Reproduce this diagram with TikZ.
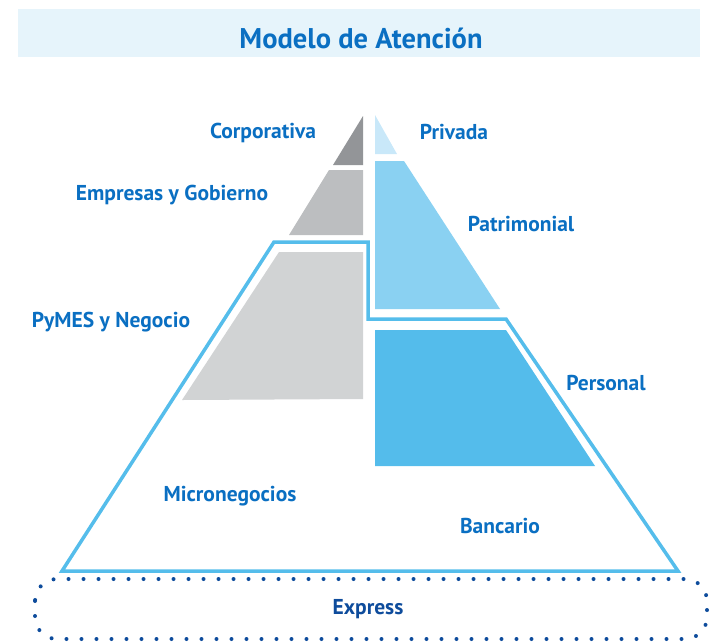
\documentclass[tikz,border=0pt]{standalone}
\usepackage{fontspec}
\setmainfont{PT Sans}
\definecolor{lblblue}{HTML}{0A6FC2}
\definecolor{navy}{HTML}{0E4C9C}
\definecolor{banner}{HTML}{E6F4FB}
\definecolor{outl}{HTML}{55BDEB}
\definecolor{gA}{HTML}{939598}
\definecolor{gB}{HTML}{BCBEC0}
\definecolor{gC}{HTML}{D1D3D4}
\definecolor{bA}{HTML}{C9E8F9}
\definecolor{bB}{HTML}{8AD1F2}
\definecolor{bC}{HTML}{54BCEB}
\begin{document}
\begin{tikzpicture}[x=1pt,y=-1pt,
  lbl/.style={font=\bfseries\fontsize{21.5}{24}\selectfont, text=lblblue, inner sep=0pt, anchor=base},
  outline/.style={draw=outl, line width=3.5pt, line join=miter},
  dotline/.style={draw=navy, line width=4pt, line cap=round, dash pattern=on 0pt off 15pt}]
\useasboundingbox (0,0) rectangle (712,641);
% banner
\fill[banner] (18,9) rectangle (700,57);
\node[font=\bfseries\fontsize{28.5}{32}\selectfont, text=lblblue, inner sep=0pt, anchor=base] (title) at (361,48) {Modelo de Atención};
% left gray blocks
\fill[gA] (363,116) -- (363,165) -- (333,165) -- cycle;
\fill[gB] (329,170) -- (363,170) -- (363,235) -- (289,235) -- cycle;
\fill[gC] (279,252) -- (363,252) -- (363,399) -- (182,400) -- cycle;
% right blue blocks
\fill[bA] (375,115) -- (397,154) -- (375,154) -- cycle;
\fill[bB] (375,161) -- (404,161) -- (500,309) -- (375,309) -- cycle;
\fill[bC] (375,330) -- (506,330) -- (595,466) -- (375,466) -- cycle;
% outline
\draw[outline] (62,571) -- (274,242) -- (368,242) -- (368,319) -- (506,319) -- (678,571) -- cycle;
% dotted express frame
\draw[dotline, rounded corners=22pt] (35,579) rectangle (707,639);
% labels
\node[lbl] (corp) at (263,138) {Corporativa};
\node[lbl] (emp) at (172,200) {Empresas y Gobierno};
\node[lbl] (pym) at (111,327) {PyMES y Negocio};
\node[lbl] (priv) at (454,139) {Privada};
\node[lbl] (patr) at (521,231) {Patrimonial};
\node[lbl] (pers) at (606,390) {Personal};
\node[lbl] (micro) at (230,501) {Micronegocios};
\node[lbl] (banc) at (500,533) {Bancario};
\node[lbl, text=navy] (expr) at (368,614) {Express};
\end{tikzpicture}
\end{document}
